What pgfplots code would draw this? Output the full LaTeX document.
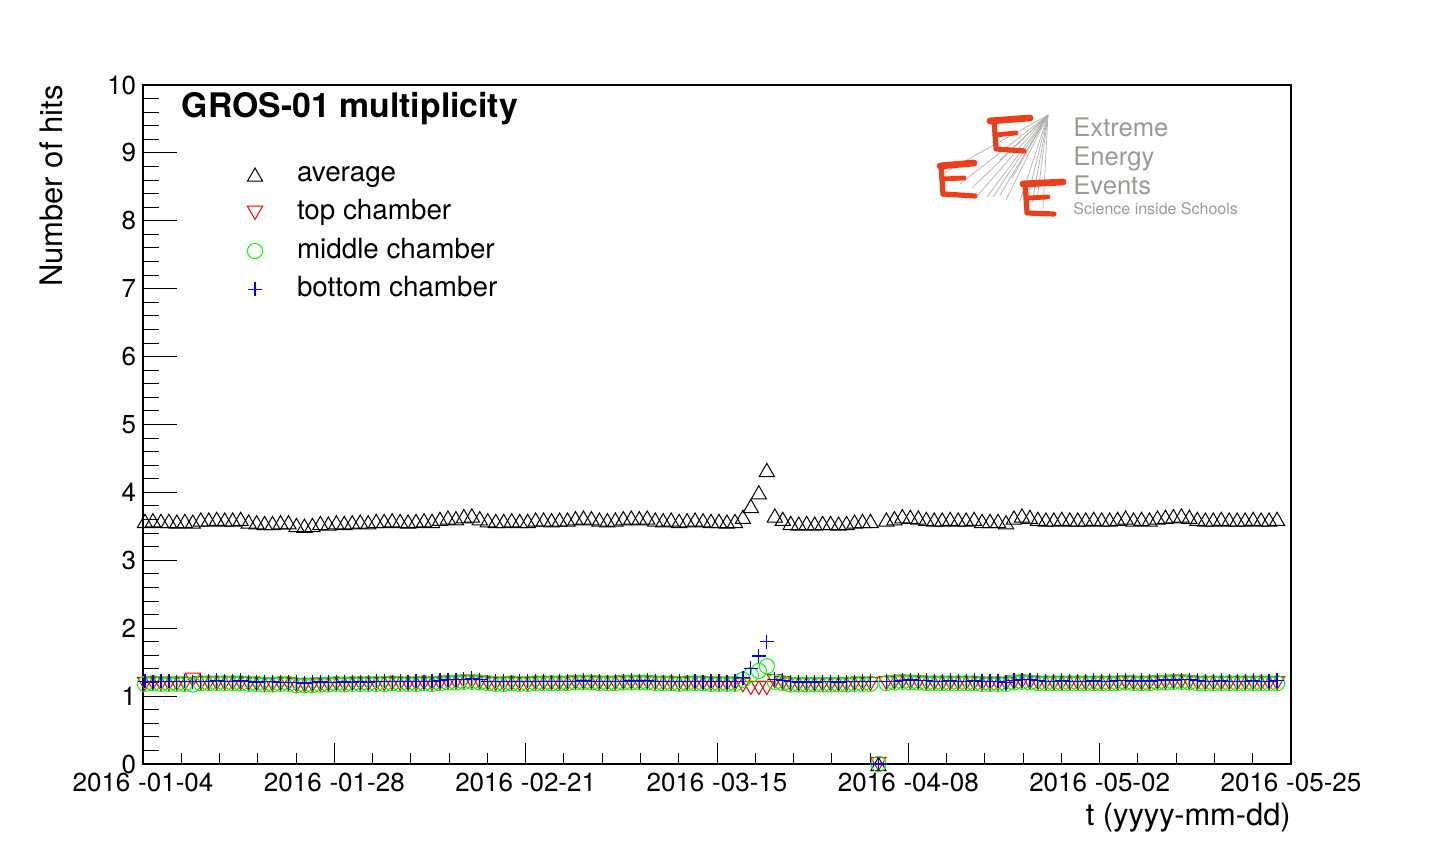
\documentclass[border=0pt]{standalone}
\usepackage{fontspec}
\setmainfont{TeX Gyre Heros}
\usepackage{pgfplots}
\usepackage{pgfplotstable}
\pgfplotsset{compat=1.18}
\definecolor{logogray}{RGB}{150,158,148}
\definecolor{logored}{RGB}{236,62,28}
\definecolor{linegray}{RGB}{175,178,172}
\pgfplotstableread{
d avg top mid bot
0 3.58 1.18 1.18 1.22
1 3.59 1.19 1.19 1.21
2 3.58 1.18 1.18 1.22
3 3.58 1.18 1.18 1.22
4 3.57 1.18 1.18 1.21
5 3.58 1.18 1.18 1.22
6 3.57 1.24 1.17 1.21
7 3.60 1.19 1.19 1.22
8 3.60 1.19 1.19 1.22
9 3.61 1.19 1.19 1.23
10 3.60 1.19 1.19 1.22
11 3.60 1.19 1.19 1.22
12 3.61 1.19 1.19 1.23
13 3.57 1.18 1.18 1.21
14 3.56 1.18 1.18 1.20
15 3.55 1.17 1.17 1.21
16 3.55 1.17 1.17 1.21
17 3.56 1.18 1.18 1.20
18 3.56 1.18 1.18 1.20
19 3.52 1.16 1.16 1.20
20 3.51 1.16 1.16 1.19
21 3.52 1.16 1.16 1.20
22 3.55 1.17 1.17 1.21
23 3.54 1.17 1.17 1.20
24 3.56 1.18 1.18 1.20
25 3.55 1.17 1.17 1.21
26 3.56 1.18 1.18 1.20
27 3.57 1.18 1.18 1.21
28 3.56 1.18 1.18 1.20
29 3.58 1.18 1.18 1.22
30 3.58 1.18 1.18 1.22
31 3.59 1.19 1.19 1.21
32 3.58 1.18 1.18 1.22
33 3.57 1.18 1.18 1.21
34 3.58 1.18 1.18 1.22
35 3.59 1.19 1.19 1.21
36 3.58 1.18 1.18 1.22
37 3.61 1.19 1.19 1.23
38 3.63 1.20 1.20 1.24
39 3.62 1.20 1.20 1.24
40 3.65 1.21 1.21 1.25
41 3.66 1.21 1.21 1.26
42 3.62 1.20 1.20 1.24
43 3.59 1.19 1.19 1.21
44 3.58 1.18 1.18 1.22
45 3.58 1.18 1.18 1.22
46 3.59 1.19 1.19 1.21
47 3.58 1.18 1.18 1.22
48 3.58 1.18 1.18 1.22
49 3.60 1.19 1.19 1.22
50 3.60 1.19 1.19 1.22
51 3.59 1.19 1.19 1.21
52 3.60 1.19 1.19 1.22
53 3.60 1.19 1.19 1.22
54 3.62 1.20 1.20 1.22
55 3.63 1.20 1.20 1.23
56 3.62 1.20 1.20 1.22
57 3.60 1.19 1.19 1.22
58 3.59 1.19 1.19 1.21
59 3.60 1.19 1.19 1.22
60 3.62 1.20 1.20 1.22
61 3.63 1.20 1.20 1.23
62 3.62 1.20 1.20 1.22
63 3.63 1.20 1.20 1.23
64 3.60 1.19 1.19 1.22
65 3.59 1.19 1.19 1.21
66 3.60 1.19 1.19 1.22
67 3.58 1.18 1.18 1.22
68 3.59 1.19 1.19 1.21
69 3.60 1.19 1.19 1.22
70 3.59 1.19 1.19 1.21
71 3.58 1.18 1.18 1.22
72 3.58 1.18 1.18 1.22
73 3.57 1.18 1.18 1.21
74 3.58 1.18 1.18 1.22
75 3.64 1.16 1.24 1.27
76 3.80 1.12 1.31 1.41
77 4.00 1.12 1.37 1.59
78 4.33 1.12 1.44 1.80
79 3.66 1.22 1.21 1.25
80 3.61 1.19 1.19 1.23
81 3.55 1.17 1.17 1.21
82 3.54 1.17 1.17 1.20
83 3.55 1.17 1.17 1.21
84 3.54 1.17 1.17 1.20
85 3.55 1.17 1.17 1.21
86 3.55 1.17 1.17 1.21
87 3.54 1.17 1.17 1.20
88 3.55 1.17 1.17 1.21
89 3.57 1.18 1.18 1.21
90 3.58 1.18 1.18 1.22
91 3.58 1.18 1.18 1.22
92 0 0 0 0
93 3.60 1.19 1.19 1.22
94 3.62 1.20 1.20 1.22
95 3.65 1.21 1.21 1.23
96 3.64 1.20 1.20 1.24
97 3.63 1.20 1.20 1.23
98 3.61 1.19 1.19 1.23
99 3.60 1.19 1.19 1.22
100 3.60 1.19 1.19 1.22
101 3.61 1.19 1.19 1.23
102 3.60 1.19 1.19 1.22
103 3.60 1.19 1.19 1.22
104 3.61 1.19 1.19 1.23
105 3.58 1.18 1.18 1.22
106 3.58 1.18 1.18 1.22
107 3.58 1.18 1.18 1.22
108 3.56 1.18 1.18 1.20
109 3.63 1.20 1.20 1.23
110 3.66 1.21 1.21 1.24
111 3.64 1.20 1.20 1.24
112 3.61 1.19 1.19 1.23
113 3.60 1.19 1.19 1.22
114 3.60 1.19 1.19 1.22
115 3.61 1.19 1.19 1.23
116 3.60 1.19 1.19 1.22
117 3.60 1.19 1.19 1.22
118 3.60 1.19 1.19 1.22
119 3.61 1.19 1.19 1.23
120 3.60 1.19 1.19 1.22
121 3.60 1.19 1.19 1.22
122 3.61 1.19 1.19 1.23
123 3.63 1.20 1.20 1.23
124 3.60 1.19 1.19 1.22
125 3.61 1.19 1.19 1.23
126 3.60 1.19 1.19 1.22
127 3.63 1.20 1.20 1.23
128 3.64 1.20 1.20 1.24
129 3.65 1.21 1.21 1.23
130 3.66 1.21 1.21 1.24
131 3.64 1.20 1.20 1.24
132 3.61 1.19 1.19 1.23
133 3.60 1.19 1.19 1.22
134 3.60 1.19 1.19 1.22
135 3.61 1.19 1.19 1.23
136 3.60 1.19 1.19 1.22
137 3.60 1.19 1.19 1.22
138 3.60 1.19 1.19 1.22
139 3.61 1.19 1.19 1.23
140 3.60 1.19 1.19 1.22
141 3.60 1.19 1.19 1.22
142 3.61 1.19 1.19 1.23
}\datatable
\begin{document}
\begin{tikzpicture}
\path[use as bounding box] (-71.5pt,-42.5pt) rectangle (646.5pt,382pt);
\begin{axis}[
  at={(0,0)}, anchor=south west,
  width=574pt, height=339.5pt, scale only axis,
  xmin=-0.25, xmax=143.75, ymin=0, ymax=10,
  clip=false,
  xtick={-0.25,23.75,47.75,71.75,95.75,119.75,143.75},
  xticklabels={2016\hspace{0.3em}-01-04,2016\hspace{0.3em}-01-28,2016\hspace{0.3em}-02-21,2016\hspace{0.3em}-03-15,2016\hspace{0.3em}-04-08,2016\hspace{0.3em}-05-02,2016\hspace{0.3em}-05-25},
  ytick={0,1,2,3,4,5,6,7,8,9,10},
  minor x tick num=4, minor y tick num=4,
  tick align=inside, xtick pos=left, ytick pos=left,
  axis line style={line width=0.6pt, black},
  every tick/.style={black, line width=0.5pt},
  xtick style={/pgfplots/major tick length=10.3pt, /pgfplots/minor tick length=5.3pt},
  ytick style={/pgfplots/major tick length=17.2pt, /pgfplots/minor tick length=8pt},
  tick label style={font=\fontsize{13}{15}\selectfont, /pgf/number format/assume math mode=true},
  xticklabel style={anchor=north, inner sep=0pt, yshift=-4.5pt},
  yticklabel style={anchor=east, inner sep=0pt, xshift=-3.2pt},
  legend cell align=left,
  legend image code/.code={\path[draw=none,fill=none] (-9pt,-4pt) rectangle (9pt,4pt); \draw[#1] plot coordinates {(0pt,0pt)};},
  legend style={at={(rel axis cs:0.0819,0.887)}, anchor=north west, draw=none, fill=none,
    inner sep=0pt, outer sep=0pt, column sep=12pt, row sep=6.2pt,
    font=\fontsize{13.9}{16}\selectfont,
    nodes={inner sep=0pt, text height=10pt, text depth=2.9pt}},
]
\addplot[only marks, color=black, mark=triangle, mark size=4.4pt, mark options={yshift=-1.1pt, line width=0.5pt, draw=black, fill=none}]
  table[x=d, y=avg] {\datatable};
\addlegendentry{average}
\addplot[only marks, color=red, mark=triangle, mark size=4.4pt, mark options={yshift=1.1pt, rotate=180, line width=0.5pt, draw=red, fill=none}]
  table[x=d, y=top] {\datatable};
\addlegendentry{top chamber}
\addplot[only marks, color=green, mark=o, mark size=3.8pt, mark options={line width=0.5pt, draw=green, fill=none}]
  table[x=d, y=mid] {\datatable};
\addlegendentry{middle chamber}
\addplot[only marks, color=blue, mark=+, mark size=3.6pt, mark options={line width=0.6pt, draw=blue}]
  table[x=d, y=bot] {\datatable};
\addlegendentry{bottom chamber}
\node[anchor=base west, font=\bfseries\fontsize{16.9}{20}\selectfont, inner sep=0pt]
  at ([xshift=19.3pt,yshift=-16.5pt]rel axis cs:0,1) {GROS-01 multiplicity};
\node[anchor=base east, rotate=90, font=\fontsize{15.5}{18}\selectfont, inner sep=0pt]
  at ([xshift=-40pt]rel axis cs:0,1) {Number of hits};
\node[anchor=base east, font=\fontsize{15.4}{18}\selectfont, inner sep=0pt]
  at ([yshift=-31pt]rel axis cs:1,0) {t (yyyy-mm-dd)};
\end{axis}
% logo, in pixel coordinates of the reference
\begin{scope}[shift={(-71.5pt,382pt)}, x=0.5pt, y=-0.5pt]
  \foreach \ex/\ey in {940/175,960/184,972/188,978/195,987/197,993/197,1000/195,1006/200,1012/178,1020/201,1028/196,1032/203,1037/200,1043/208,1000/160}
    \draw[linegray, line width=0.35pt] (1048,115) -- (\ex,\ey);
  \begin{scope}[logored, line cap=round, line join=round]
    \draw[line width=3.4pt] (990,121) -- (1030,118);
    \draw[line width=2.6pt] (994,121) -- (996,148);
    \draw[line width=2.4pt] (995,135) -- (1016,133);
    \draw[line width=2.6pt] (996,149) -- (1024,151);
    \draw[line width=3.4pt] (940,166) -- (974,163);
    \draw[line width=2.6pt] (941,166) -- (943,194);
    \draw[line width=2.4pt] (943,179) -- (964,178);
    \draw[line width=2.6pt] (943,194) -- (975,196);
    \draw[line width=3.4pt] (1023,184) -- (1063,182);
    \draw[line width=2.6pt] (1025,184) -- (1027,212);
    \draw[line width=2.4pt] (1027,198) -- (1048,197);
    \draw[line width=2.6pt] (1027,213) -- (1054,214);
  \end{scope}
  \node[anchor=base west, inner sep=0pt, text=logogray, font=\fontsize{12.8}{15}\selectfont] at (1073,137) {Extreme};
  \node[anchor=base west, inner sep=0pt, text=logogray, font=\fontsize{12.8}{15}\selectfont] at (1073,166) {Energy};
  \node[anchor=base west, inner sep=0pt, text=logogray, font=\fontsize{12.8}{15}\selectfont] at (1073,195) {Events};
  \node[anchor=base west, inner sep=0pt, text=logogray, font=\fontsize{8}{10}\selectfont] at (1073,215) {Science inside Schools};
\end{scope}
\end{tikzpicture}
\end{document}
